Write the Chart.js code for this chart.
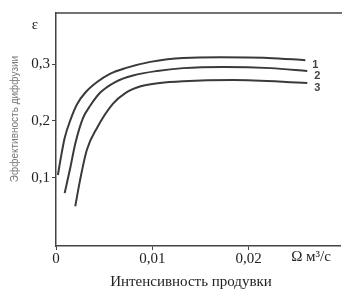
<!DOCTYPE html>
<html>
<head>
<meta charset="utf-8">
<script src="https://cdn.jsdelivr.net/npm/chart.js@4"></script>
<style>
  html, body { margin: 0; padding: 0; background: #fff; }
  #wrap { width: 342px; height: 290px; }
</style>
</head>
<body>
<div id="wrap"><canvas id="c" width="342" height="290"></canvas></div>
<script>
// кривые 1, 2, 3: интенсивность продувки (м³/с) -> эффективность диффузии
const curve1X = [0.0002, 0.0005, 0.0009, 0.0015, 0.0022, 0.0031, 0.0043, 0.0056, 0.0072, 0.0098, 0.0132, 0.0171, 0.0220, 0.0259];
const curve1Y = [0.105, 0.135, 0.170, 0.202, 0.230, 0.251, 0.269, 0.283, 0.293, 0.304, 0.311, 0.312, 0.311, 0.307];
const curve2X = [0.0009, 0.0015, 0.0020, 0.0028, 0.0036, 0.0046, 0.0062, 0.0080, 0.0105, 0.0132, 0.0174, 0.0223, 0.0261];
const curve2Y = [0.073, 0.119, 0.160, 0.205, 0.228, 0.250, 0.269, 0.280, 0.288, 0.293, 0.295, 0.293, 0.288];
const curve3X = [0.0020, 0.0025, 0.0032, 0.0043, 0.0059, 0.0072, 0.0088, 0.0108, 0.0132, 0.0184, 0.0261];
const curve3Y = [0.050, 0.096, 0.149, 0.189, 0.230, 0.249, 0.261, 0.267, 0.270, 0.272, 0.267];
const curveNames = ['1', '2', '3'];
const xTicks = [0, 0.01, 0.02];
const yTicks = [0.1, 0.2, 0.3];

const ink = '#3a3a3a';
const serif = '"Liberation Serif", "DejaVu Serif", serif';

const pts = (xs, ys) => xs.map((x, i) => ({ x, y: ys[i] }));
const comma = v => String(v).replace('.', ',');

const extras = {
  id: 'extras',
  afterDraw(chart) {
    const { ctx, chartArea: a } = chart;
    ctx.save();
    // верхняя рамка
    ctx.strokeStyle = '#444';
    ctx.lineWidth = 1.5;
    ctx.beginPath();
    ctx.moveTo(a.left, a.top);
    ctx.lineTo(342, a.top);
    ctx.stroke();

    ctx.fillStyle = '#222';
    ctx.font = '15px ' + serif;
    ctx.textAlign = 'center';
    ctx.textBaseline = 'middle';
    ctx.fillText('ε', 35, 25);
    ctx.fillText('Ω м³/с', 311, 257);
    ctx.fillText('Интенсивность продувки', 191, 282);

    ctx.save();
    ctx.translate(15, 119);
    ctx.rotate(-Math.PI / 2);
    ctx.fillStyle = '#777';
    ctx.font = '10px "Liberation Sans", sans-serif';
    ctx.fillText('Эффективность диффузии', 0, 0);
    ctx.restore();

    // номера кривых у концов линий
    ctx.fillStyle = '#444';
    ctx.font = 'bold 11px "Liberation Sans", sans-serif';
    chart.data.datasets.forEach((ds, i) => {
      const meta = chart.getDatasetMeta(i);
      const last = meta.data[meta.data.length - 1];
      ctx.fillText(curveNames[i], last.x + 10, last.y + 5);
    });
    ctx.restore();
  }
};

const line = (data) => ({
  data,
  borderColor: ink,
  borderWidth: 2,
  pointRadius: 0,
  fill: false,
  cubicInterpolationMode: 'monotone'
});

new Chart(document.getElementById('c'), {
  type: 'line',
  data: {
    datasets: [
      line(pts(curve1X, curve1Y)),
      line(pts(curve2X, curve2Y)),
      line(pts(curve3X, curve3Y))
    ]
  },
  options: {
    responsive: false,
    animation: false,
    layout: { padding: { top: 13, right: 2, left: 0, bottom: 0 } },
    plugins: { legend: { display: false }, tooltip: { enabled: false } },
    scales: {
      x: {
        type: 'linear',
        min: 0,
        max: 0.0295,
        afterBuildTicks: s => { s.ticks = xTicks.map(v => ({ value: v })); },
        afterFit: s => { s.height = 44; },
        grid: { drawOnChartArea: false, tickLength: 4, color: '#444' },
        border: { color: '#444', width: 1.5 },
        ticks: {
          padding: 0,
          color: '#222',
          font: { family: serif, size: 15 },
          maxRotation: 0,
          callback: v => comma(v)
        }
      },
      y: {
        min: -0.02,
        max: 0.39,
        afterBuildTicks: s => { s.ticks = yTicks.map(v => ({ value: v })); },
        afterFit: s => { s.width = 56; },
        grid: { drawOnChartArea: false, tickLength: 4, color: '#444' },
        border: { color: '#444', width: 1.5 },
        ticks: {
          padding: 2,
          color: '#222',
          font: { family: serif, size: 15 },
          callback: v => comma(v)
        }
      }
    }
  },
  plugins: [extras]
});
</script>
</body>
</html>
